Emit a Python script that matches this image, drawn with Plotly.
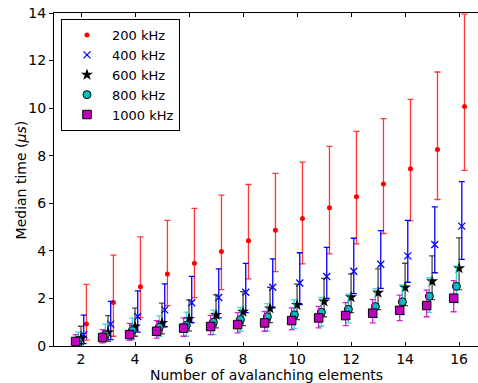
import plotly.graph_objects as go

n_elements = [2, 3, 4, 5, 6, 7, 8, 9, 10, 11, 12, 13, 14, 15, 16]
labels = ["200 kHz", "400 kHz", "600 kHz", "800 kHz", "1000 kHz"]

med_200 = [0.93, 1.83, 2.49, 3.03, 3.48, 3.97, 4.43, 4.87, 5.36, 5.81, 6.28, 6.81, 7.45, 8.26, 10.07]
hi_200 = [2.59, 3.82, 4.59, 5.28, 5.79, 6.34, 6.79, 7.26, 7.73, 8.39, 9.02, 9.56, 10.37, 11.52, 13.95]
lo_200 = [0.25, 0.41, 1.19, 1.70, 2.03, 2.37, 2.82, 3.13, 3.45, 3.87, 4.29, 4.73, 5.26, 6.16, 7.38]

med_400 = [0.47, 0.92, 1.24, 1.52, 1.82, 2.04, 2.26, 2.47, 2.65, 2.92, 3.14, 3.44, 3.79, 4.27, 5.04]
hi_400 = [1.30, 1.88, 2.32, 2.61, 2.93, 3.24, 3.47, 3.66, 3.92, 4.15, 4.53, 4.85, 5.28, 5.85, 6.91]
lo_400 = [0.10, 0.27, 0.58, 0.81, 0.98, 1.18, 1.40, 1.60, 1.74, 2.00, 2.20, 2.42, 2.68, 3.08, 3.64]

med_600 = [0.32, 0.57, 0.82, 0.97, 1.14, 1.31, 1.44, 1.58, 1.73, 1.87, 2.05, 2.24, 2.46, 2.72, 3.27]
hi_600 = [0.83, 1.28, 1.59, 1.80, 1.94, 2.15, 2.29, 2.47, 2.60, 2.84, 3.03, 3.24, 3.48, 3.79, 4.55]
lo_600 = [0.06, 0.20, 0.41, 0.51, 0.64, 0.76, 0.86, 0.98, 1.11, 1.23, 1.40, 1.53, 1.70, 1.95, 2.37]

med_800 = [0.24, 0.47, 0.65, 0.79, 0.87, 1.00, 1.11, 1.23, 1.31, 1.42, 1.54, 1.66, 1.86, 2.09, 2.51]
hi_800 = [0.58, 0.92, 1.17, 1.27, 1.42, 1.51, 1.62, 1.78, 1.94, 2.04, 2.18, 2.40, 2.56, 2.87, 3.36]
lo_800 = [0.02, 0.18, 0.27, 0.41, 0.41, 0.48, 0.62, 0.64, 0.74, 0.83, 0.97, 1.19, 1.32, 1.41, 1.82]

med_1000 = [0.19, 0.36, 0.48, 0.62, 0.75, 0.82, 0.90, 0.97, 1.07, 1.18, 1.28, 1.38, 1.50, 1.70, 2.01]
hi_1000 = [0.48, 0.69, 0.95, 1.07, 1.18, 1.29, 1.40, 1.45, 1.60, 1.67, 1.82, 1.95, 2.14, 2.35, 2.75]
lo_1000 = [0.02, 0.13, 0.24, 0.33, 0.41, 0.48, 0.55, 0.62, 0.69, 0.76, 0.86, 0.97, 1.07, 1.23, 1.44]

x_title = "Number of avalanching elements"
y_title = "Median time (<i>μs</i>)"

series = [
    (labels[0], med_200, hi_200, lo_200, 0.2,
     dict(symbol="circle", size=5, color="#ff0000", line=dict(width=0)), "rgba(255,20,20,0.85)"),
    (labels[1], med_400, hi_400, lo_400, 0.1,
     dict(symbol="x-thin", size=7, color="#0000ff", line=dict(width=1.3, color="#0000ff")), "#0000ff"),
    (labels[2], med_600, hi_600, lo_600, 0.0,
     dict(symbol="star", size=9, color="#000000", line=dict(width=0)), "rgba(40,40,40,0.85)"),
    (labels[3], med_800, hi_800, lo_800, -0.1,
     dict(symbol="circle", size=8, color="#00bfbf", line=dict(width=1, color="#000000")), "rgba(0,200,200,0.75)"),
    (labels[4], med_1000, hi_1000, lo_1000, -0.2,
     dict(symbol="square", size=8.5, color="#bf00bf", line=dict(width=1, color="#000000")), "rgba(200,0,200,0.85)"),
]

fig = go.Figure()
for name, med, hi, lo, off, marker, ecol in series:
    fig.add_trace(go.Scatter(
        x=[v + off for v in n_elements],
        y=med,
        mode="markers",
        name=name,
        marker=marker,
        error_y=dict(
            type="data",
            symmetric=False,
            array=[h - m for h, m in zip(hi, med)],
            arrayminus=[m - l for m, l in zip(med, lo)],
            color=ecol,
            thickness=1.3,
            width=3,
        ),
    ))

font = dict(family="DejaVu Sans", size=14, color="#000000")
fig.update_layout(
    width=478, height=383,
    margin=dict(l=54, r=0, t=13, b=37),
    paper_bgcolor="white", plot_bgcolor="white",
    font=font,
    showlegend=True,
    legend=dict(
        x=0.0165, y=0.982, xanchor="left", yanchor="top",
        bordercolor="#000000", borderwidth=1, bgcolor="white",
        font=dict(family="DejaVu Sans", size=13, color="#000000"),
        tracegroupgap=0, itemsizing="trace", itemwidth=40,
    ),
    xaxis=dict(
        range=[1, 16.7], tickvals=[2, 4, 6, 8, 10, 12, 14, 16],
        ticks="inside", ticklen=4, tickcolor="#000000",
        showline=True, linecolor="#000000", linewidth=1, mirror="ticks",
        showgrid=False, zeroline=False,
    ),
    yaxis=dict(
        range=[0, 14], tickvals=[0, 2, 4, 6, 8, 10, 12, 14],
        ticks="outside", ticklen=4, tickcolor="#000000",
        showline=True, linecolor="#000000", linewidth=1,
        showgrid=False, zeroline=False,
    ),
    annotations=[
        dict(text=x_title, xref="paper", yref="paper", x=0.5, y=-0.086,
             xanchor="center", yanchor="middle", showarrow=False, font=font, borderpad=0),
        dict(text=y_title, xref="paper", yref="paper", x=-0.078, y=0.5,
             xanchor="center", yanchor="middle", textangle=-90, showarrow=False, font=font),
    ],
)

fig.write_html("out.html")
